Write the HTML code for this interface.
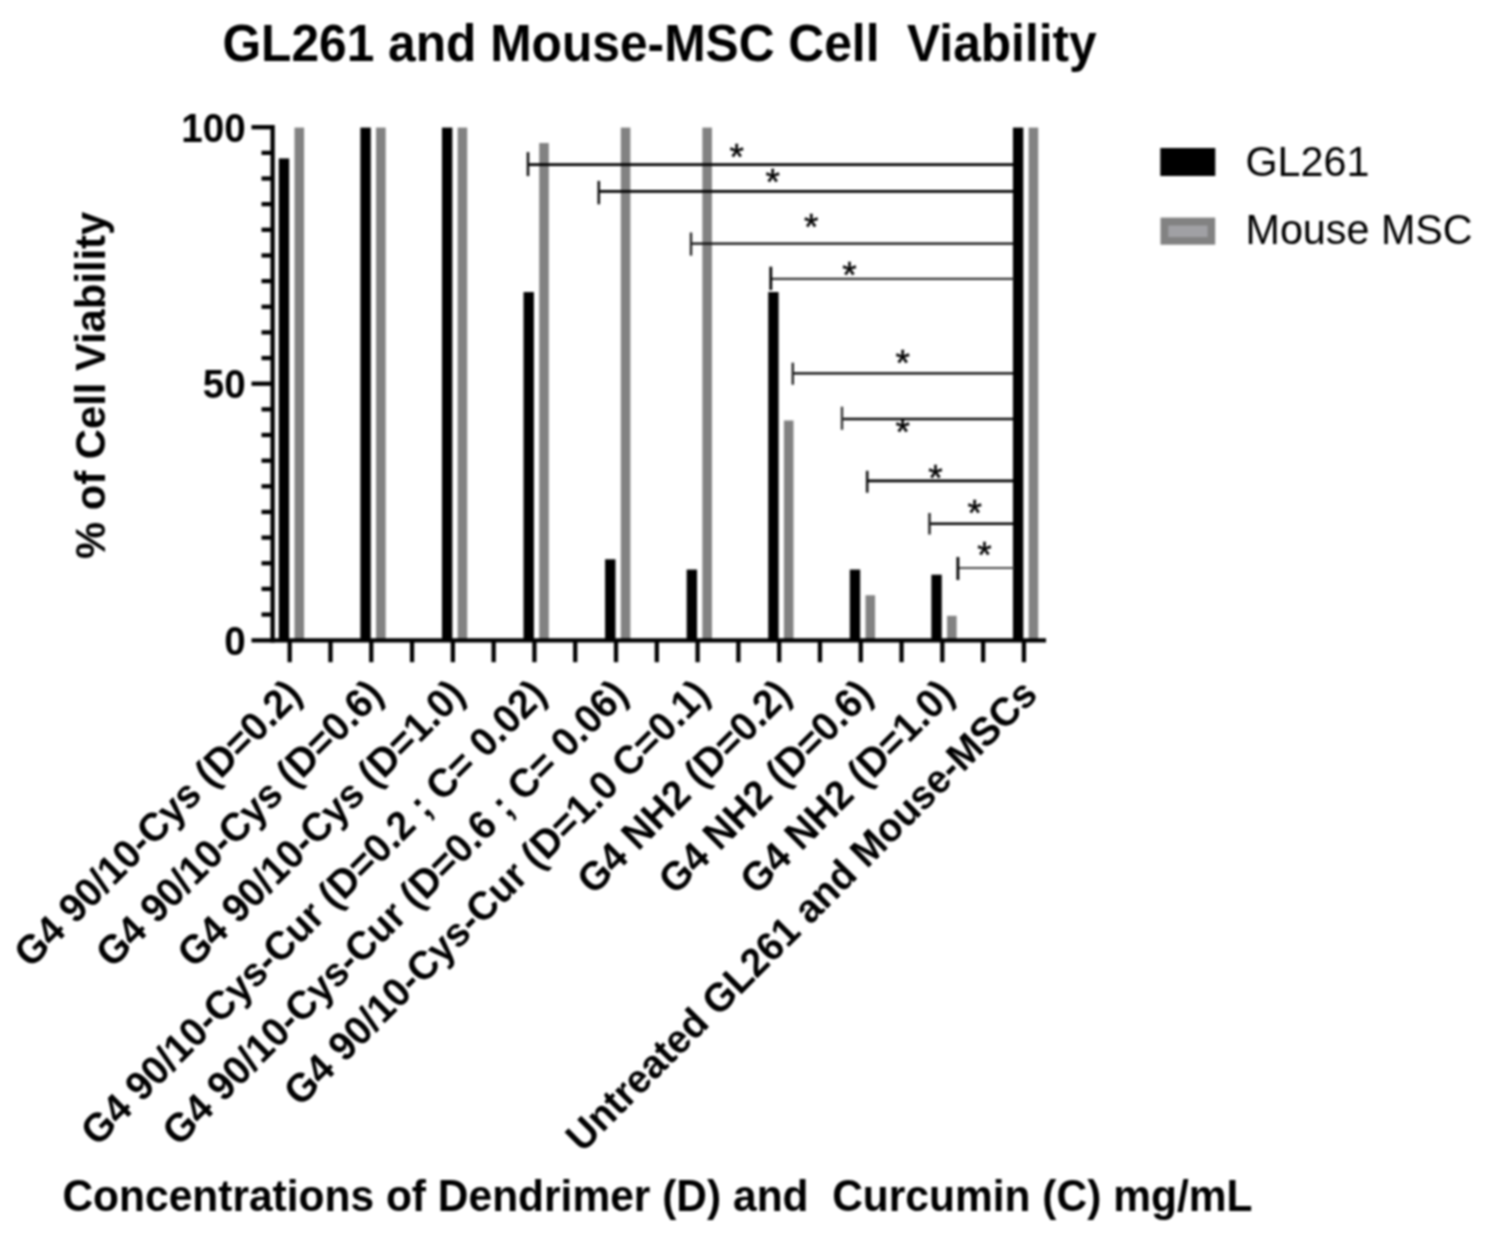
<!DOCTYPE html><html><head><meta charset="utf-8"><title>GL261 and Mouse-MSC Cell Viability</title><style>html,body{margin:0;padding:0;background:#fff}svg{display:block}</style></head><body>
<svg width="1491" height="1242" viewBox="0 0 1491 1242" font-family='"Liberation Sans", Arial, Helvetica, sans-serif'>
<defs><filter id="soft" x="0" y="0" width="100%" height="100%" filterUnits="userSpaceOnUse" color-interpolation-filters="sRGB"><feGaussianBlur stdDeviation="0.95"/></filter></defs>
<rect width="1491" height="1242" fill="#fff"/>
<g filter="url(#soft)">
<rect x="-10" y="-10" width="1511" height="1262" fill="#fff"/>
<g id="bars">
<rect x="278.80" y="158.43" width="10.4" height="483.07" fill="#000"/>
<rect x="294.50" y="127.60" width="9.6" height="513.90" fill="#828282"/>
<rect x="360.37" y="127.60" width="10.4" height="513.90" fill="#000"/>
<rect x="376.07" y="127.60" width="9.6" height="513.90" fill="#828282"/>
<rect x="441.94" y="127.60" width="10.4" height="513.90" fill="#000"/>
<rect x="457.64" y="127.60" width="9.6" height="513.90" fill="#828282"/>
<rect x="523.51" y="292.05" width="10.4" height="349.45" fill="#000"/>
<rect x="539.21" y="143.02" width="9.6" height="498.48" fill="#828282"/>
<rect x="605.08" y="559.28" width="10.4" height="82.22" fill="#000"/>
<rect x="620.78" y="127.60" width="9.6" height="513.90" fill="#828282"/>
<rect x="686.65" y="569.55" width="10.4" height="71.95" fill="#000"/>
<rect x="702.35" y="127.60" width="9.6" height="513.90" fill="#828282"/>
<rect x="768.22" y="292.05" width="10.4" height="349.45" fill="#000"/>
<rect x="783.92" y="420.52" width="9.6" height="220.98" fill="#828282"/>
<rect x="849.79" y="569.55" width="10.4" height="71.95" fill="#000"/>
<rect x="865.49" y="595.25" width="9.6" height="46.25" fill="#828282"/>
<rect x="931.36" y="574.69" width="10.4" height="66.81" fill="#000"/>
<rect x="947.06" y="615.80" width="9.6" height="25.70" fill="#828282"/>
<rect x="1012.93" y="127.60" width="10.4" height="513.90" fill="#000"/>
<rect x="1028.63" y="127.60" width="9.6" height="513.90" fill="#828282"/>
</g>
<g id="axes" stroke="#000" stroke-width="4.3" fill="none">
<path d="M272.6 125.05V642.50"/>
<path d="M251.5 640.40H1046"/>
<path d="M261.5 614.55H272.6"/>
<path d="M261.5 588.90H272.6"/>
<path d="M261.5 563.25H272.6"/>
<path d="M261.5 537.60H272.6"/>
<path d="M261.5 511.95H272.6"/>
<path d="M261.5 486.30H272.6"/>
<path d="M261.5 460.65H272.6"/>
<path d="M261.5 435.00H272.6"/>
<path d="M261.5 409.35H272.6"/>
<path d="M251.5 383.70H272.6"/>
<path d="M261.5 358.05H272.6"/>
<path d="M261.5 332.40H272.6"/>
<path d="M261.5 306.75H272.6"/>
<path d="M261.5 281.10H272.6"/>
<path d="M261.5 255.45H272.6"/>
<path d="M261.5 229.80H272.6"/>
<path d="M261.5 204.15H272.6"/>
<path d="M261.5 178.50H272.6"/>
<path d="M261.5 152.85H272.6"/>
<path d="M251.5 127.20H272.6"/>
<path d="M289.70 640.20V662.2"/>
<path d="M330.49 640.20V662.2"/>
<path d="M371.28 640.20V662.2"/>
<path d="M412.07 640.20V662.2"/>
<path d="M452.86 640.20V662.2"/>
<path d="M493.65 640.20V662.2"/>
<path d="M534.44 640.20V662.2"/>
<path d="M575.23 640.20V662.2"/>
<path d="M616.02 640.20V662.2"/>
<path d="M656.81 640.20V662.2"/>
<path d="M697.60 640.20V662.2"/>
<path d="M738.39 640.20V662.2"/>
<path d="M779.18 640.20V662.2"/>
<path d="M819.97 640.20V662.2"/>
<path d="M860.76 640.20V662.2"/>
<path d="M901.55 640.20V662.2"/>
<path d="M942.34 640.20V662.2"/>
<path d="M983.13 640.20V662.2"/>
<path d="M1023.92 640.20V662.2"/>
</g>
<text transform="translate(245.60 655.00) scale(1 1.05)" font-size="38.6" text-anchor="end" font-weight="bold">0</text>
<text transform="translate(245.60 398.20) scale(1 1.05)" font-size="38.6" text-anchor="end" font-weight="bold">50</text>
<text transform="translate(245.60 141.70) scale(1 1.05)" font-size="38.6" text-anchor="end" font-weight="bold">100</text>
<g id="sig" fill="none">
<path d="M528 164.6H1014" stroke="#000" stroke-width="2.7"/>
<path d="M528 152.1V176.1" stroke="#111" stroke-width="2.6"/>
<path d="M598.8 191.3H1014" stroke="#000" stroke-width="2.7"/>
<path d="M598.8 180.9V204.3" stroke="#111" stroke-width="2.6"/>
<path d="M691 243.7H1014" stroke="#0a0a0a" stroke-width="2.3"/>
<path d="M691 232.5V255.6" stroke="#222" stroke-width="2.4"/>
<path d="M770.8 278.8H1014" stroke="#333" stroke-width="2.2"/>
<path d="M770.8 266.7V290" stroke="#000" stroke-width="2.8"/>
<path d="M792.8 373.4H1014" stroke="#000" stroke-width="2.4"/>
<path d="M792.8 362.7V384.7" stroke="#222" stroke-width="2.4"/>
<path d="M842 419H1014" stroke="#0a0a0a" stroke-width="2.4"/>
<path d="M842 406.7V429.8" stroke="#333" stroke-width="2.4"/>
<path d="M867.2 480.9H1014" stroke="#000" stroke-width="2.7"/>
<path d="M867.2 470.8V492.7" stroke="#111" stroke-width="2.6"/>
<path d="M929.5 523.7H1014" stroke="#000" stroke-width="2.6"/>
<path d="M929.5 513V534.5" stroke="#222" stroke-width="2.5"/>
<path d="M957.9 568H1014" stroke="#4a4a4a" stroke-width="1.9"/>
<path d="M957.9 557V580" stroke="#000" stroke-width="2.8"/>
</g>
<text transform="translate(736.60 170.10) scale(1 1.0)" font-size="37" text-anchor="middle" stroke="#000" stroke-width="0.45">*</text>
<text transform="translate(772.60 195.10) scale(1 1.0)" font-size="37" text-anchor="middle" stroke="#000" stroke-width="0.45">*</text>
<text transform="translate(811.10 240.20) scale(1 1.0)" font-size="37" text-anchor="middle" stroke="#000" stroke-width="0.45">*</text>
<text transform="translate(849.50 287.90) scale(1 1.0)" font-size="37" text-anchor="middle" stroke="#000" stroke-width="0.45">*</text>
<text transform="translate(902.70 375.50) scale(1 1.0)" font-size="37" text-anchor="middle" stroke="#000" stroke-width="0.45">*</text>
<text transform="translate(902.70 445.40) scale(1 1.0)" font-size="37" text-anchor="middle" stroke="#000" stroke-width="0.45">*</text>
<text transform="translate(935.40 491.40) scale(1 1.0)" font-size="37" text-anchor="middle" stroke="#000" stroke-width="0.45">*</text>
<text transform="translate(974.80 526.40) scale(1 1.0)" font-size="37" text-anchor="middle" stroke="#000" stroke-width="0.45">*</text>
<text transform="translate(984.40 568.10) scale(1 1.0)" font-size="37" text-anchor="middle" stroke="#000" stroke-width="0.45">*</text>
<rect x="1160.3" y="148" width="55" height="28" fill="#000"/>
<rect x="1160.5" y="217.6" width="54.7" height="27.1" fill="#828282"/>
<rect x="1168.3" y="225.5" width="39.3" height="11.6" fill="#a0a0a4"/>
<text transform="translate(1245.50 176.00) scale(1 1.04)" font-size="41.3">GL261</text>
<text transform="translate(1245.50 244.40) scale(1 1.04)" font-size="41.3">Mouse MSC</text>
<text transform="translate(222.40 61.00) scale(1 1.035)" font-size="49.7" font-weight="bold" xml:space="preserve">GL261 and Mouse-MSC Cell  Viability</text>
<text transform="translate(62.40 1211.00) scale(1 1.035)" font-size="42.5" font-weight="bold" xml:space="preserve">Concentrations of Dendrimer (D) and  Curcumin (C) mg/mL</text>
<text transform="translate(104.70 558.90) rotate(-90) scale(1 1.035)" font-size="41.75" font-weight="bold">% of Cell Viability</text>
<text transform="translate(303.70 696.50) rotate(-45) scale(1 1.035)" font-size="38.9" text-anchor="end" font-weight="bold">G4 90/10-Cys (D=0.2)</text>
<text transform="translate(385.27 696.50) rotate(-45) scale(1 1.035)" font-size="38.9" text-anchor="end" font-weight="bold">G4 90/10-Cys (D=0.6)</text>
<text transform="translate(466.84 696.50) rotate(-45) scale(1 1.035)" font-size="38.9" text-anchor="end" font-weight="bold">G4 90/10-Cys (D=1.0)</text>
<text transform="translate(548.41 696.50) rotate(-45) scale(1 1.035)" font-size="38.9" text-anchor="end" font-weight="bold">G4 90/10-Cys-Cur (D=0.2 ; C= 0.02)</text>
<text transform="translate(629.98 696.50) rotate(-45) scale(1 1.035)" font-size="38.9" text-anchor="end" font-weight="bold">G4 90/10-Cys-Cur (D=0.6 ; C= 0.06)</text>
<text transform="translate(711.55 696.50) rotate(-45) scale(1 1.035)" font-size="38.9" text-anchor="end" font-weight="bold">G4 90/10-Cys-Cur (D=1.0 C=0.1)</text>
<text transform="translate(793.12 696.50) rotate(-45) scale(1 1.035)" font-size="38.9" text-anchor="end" font-weight="bold">G4 NH2 (D=0.2)</text>
<text transform="translate(874.69 696.50) rotate(-45) scale(1 1.035)" font-size="38.9" text-anchor="end" font-weight="bold">G4 NH2 (D=0.6)</text>
<text transform="translate(956.26 696.50) rotate(-45) scale(1 1.035)" font-size="38.9" text-anchor="end" font-weight="bold">G4 NH2 (D=1.0)</text>
<text transform="translate(1039.33 696.50) rotate(-45) scale(1 1.035)" font-size="38.9" text-anchor="end" font-weight="bold">Untreated GL261 and Mouse-MSCs</text>
</g>
</svg>
</body></html>
